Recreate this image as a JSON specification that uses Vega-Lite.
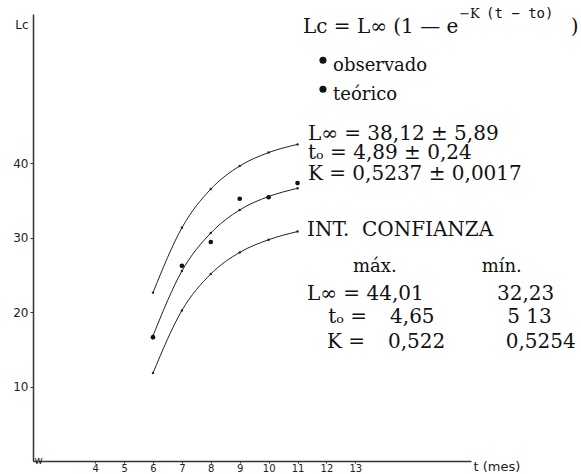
{
  "$schema": "https://vega.github.io/schema/vega-lite/v6.json",
  "autosize": "none",
  "width": 438,
  "height": 447,
  "padding": {"left": 33, "top": 14, "right": 110, "bottom": 13},
  "background": "white",
  "config": {"view": {"stroke": null}},
  "datasets": {
    "curvas": [
      {"t": 6, "Lc": 22.6, "curva": "max"},
      {"t": 7, "Lc": 31.3, "curva": "max"},
      {"t": 8, "Lc": 36.5, "curva": "max"},
      {"t": 9, "Lc": 39.6, "curva": "max"},
      {"t": 10, "Lc": 41.4, "curva": "max"},
      {"t": 11, "Lc": 42.5, "curva": "max"},
      {"t": 6, "Lc": 16.8, "curva": "teorico"},
      {"t": 7, "Lc": 25.5, "curva": "teorico"},
      {"t": 8, "Lc": 30.6, "curva": "teorico"},
      {"t": 9, "Lc": 33.7, "curva": "teorico"},
      {"t": 10, "Lc": 35.5, "curva": "teorico"},
      {"t": 11, "Lc": 36.6, "curva": "teorico"},
      {"t": 6, "Lc": 11.8, "curva": "min"},
      {"t": 7, "Lc": 20.2, "curva": "min"},
      {"t": 8, "Lc": 25.1, "curva": "min"},
      {"t": 9, "Lc": 28.0, "curva": "min"},
      {"t": 10, "Lc": 29.7, "curva": "min"},
      {"t": 11, "Lc": 30.8, "curva": "min"}
    ],
    "observado": [
      {"t": 6, "Lc": 16.6},
      {"t": 7, "Lc": 26.2},
      {"t": 8, "Lc": 29.4},
      {"t": 9, "Lc": 35.2},
      {"t": 10, "Lc": 35.4},
      {"t": 11, "Lc": 37.3}
    ],
    "textos": [
      {"t": 11.19, "Lc": 57.4, "texto": "Lc = L∞ (1 — e"},
      {"t": 11.36, "Lc": 43.1, "texto": "L∞ = 38,12 ± 5,89"},
      {"t": 11.36, "Lc": 40.5, "texto": "tₒ = 4,89 ± 0,24"},
      {"t": 11.36, "Lc": 37.7, "texto": "K = 0,5237 ± 0,0017"},
      {"t": 11.33, "Lc": 30.2, "texto": "INT.\u00a0\u00a0CONFIANZA"},
      {"t": 11.33, "Lc": 21.6, "texto": "L∞ = 44,01"},
      {"t": 17.9, "Lc": 21.6, "texto": "32,23"},
      {"t": 12.06, "Lc": 18.5, "texto": "tₒ ="},
      {"t": 14.2, "Lc": 18.5, "texto": "4,65"},
      {"t": 18.25, "Lc": 18.5, "texto": "5 13"},
      {"t": 12.02, "Lc": 15.2, "texto": "K ="},
      {"t": 14.13, "Lc": 15.2, "texto": "0,522"},
      {"t": 18.2, "Lc": 15.2, "texto": "0,5254"},
      {"t": 20.45, "Lc": 57.4, "texto": ")"}
    ],
    "palabras": [
      {"t": 12.23, "Lc": 52.4, "texto": "observado"},
      {"t": 12.23, "Lc": 48.5, "texto": "teórico"},
      {"t": 12.92, "Lc": 25.4, "texto": "máx."},
      {"t": 17.37, "Lc": 25.4, "texto": "mín."}
    ],
    "superindice": [
      {"t": 16.59, "Lc": 59.4, "texto": "−K"}
    ],
    "superindice_mono": [
      {"t": 17.52, "Lc": 59.5, "texto": "(t − to)"}
    ],
    "quiebre": [
      {"t": 1.9, "Lc": 0, "texto": "w"}
    ],
    "leyenda": [
      {"t": 11.88, "Lc": 53.8},
      {"t": 11.88, "Lc": 49.9}
    ]
  },
  "layer": [
    {
      "data": {"name": "curvas"},
      "mark": {"type": "line", "interpolate": "monotone", "color": "#222", "strokeWidth": 1},
      "encoding": {
        "x": {
          "field": "t", "type": "quantitative",
          "scale": {"domain": [1.85, 17], "nice": false, "zero": false},
          "axis": {
            "values": [4, 5, 6, 7, 8, 9, 10, 11, 12, 13],
            "title": "t (mes)",
            "titleFont": "DejaVu Sans", "titleFontSize": 13, "titleFontWeight": "normal", "titleColor": "#222",
            "titleAnchor": null, "titleAlign": "left", "titleBaseline": "middle", "titleX": 440, "titleY": 5,
            "grid": false, "tickSize": 2, "labelPadding": 0,
            "labelFont": "DejaVu Sans", "labelFontSize": 10, "labelColor": "#222",
            "domainColor": "#333", "domainWidth": 1.5, "tickColor": "#333"
          }
        },
        "y": {
          "field": "Lc", "type": "quantitative",
          "scale": {"domain": [0, 60], "nice": false},
          "axis": {
            "values": [10, 20, 30, 40],
            "title": "Lc", "titleAngle": 0,
            "titleFont": "DejaVu Sans", "titleFontSize": 12, "titleFontWeight": "normal", "titleColor": "#222",
            "titleAnchor": null, "titleAlign": "right", "titleBaseline": "alphabetic", "titleX": -5, "titleY": 14,
            "grid": false, "tickSize": 3, "labelPadding": 2,
            "labelFont": "DejaVu Sans", "labelFontSize": 12, "labelColor": "#222",
            "domainColor": "#333", "domainWidth": 1.5, "tickColor": "#333"
          }
        },
        "detail": {"field": "curva"}
      }
    },
    {
      "data": {"name": "curvas"},
      "mark": {"type": "point", "filled": true, "color": "#222", "size": 6, "opacity": 1},
      "encoding": {
        "x": {"field": "t", "type": "quantitative"},
        "y": {"field": "Lc", "type": "quantitative"}
      }
    },
    {
      "data": {"name": "observado"},
      "mark": {"type": "point", "filled": true, "color": "#111", "size": 22, "opacity": 1},
      "encoding": {
        "x": {"field": "t", "type": "quantitative"},
        "y": {"field": "Lc", "type": "quantitative"}
      }
    },
    {
      "data": {"name": "leyenda"},
      "mark": {"type": "point", "filled": true, "color": "#111", "size": 50, "opacity": 1},
      "encoding": {
        "x": {"field": "t", "type": "quantitative"},
        "y": {"field": "Lc", "type": "quantitative"}
      }
    },
    {
      "data": {"name": "textos"},
      "mark": {"type": "text", "align": "left", "baseline": "alphabetic", "font": "DejaVu Serif", "fontSize": 20, "color": "#111"},
      "encoding": {
        "x": {"field": "t", "type": "quantitative"},
        "y": {"field": "Lc", "type": "quantitative"},
        "text": {"field": "texto"}
      }
    },
    {
      "data": {"name": "palabras"},
      "mark": {"type": "text", "align": "left", "baseline": "alphabetic", "font": "DejaVu Serif", "fontSize": 18, "color": "#111"},
      "encoding": {
        "x": {"field": "t", "type": "quantitative"},
        "y": {"field": "Lc", "type": "quantitative"},
        "text": {"field": "texto"}
      }
    },
    {
      "data": {"name": "superindice"},
      "mark": {"type": "text", "align": "left", "baseline": "alphabetic", "font": "DejaVu Serif", "fontSize": 13, "color": "#111"},
      "encoding": {
        "x": {"field": "t", "type": "quantitative"},
        "y": {"field": "Lc", "type": "quantitative"},
        "text": {"field": "texto"}
      }
    },
    {
      "data": {"name": "superindice_mono"},
      "mark": {"type": "text", "align": "left", "baseline": "alphabetic", "font": "DejaVu Sans Mono", "fontSize": 14, "color": "#111"},
      "encoding": {
        "x": {"field": "t", "type": "quantitative"},
        "y": {"field": "Lc", "type": "quantitative"},
        "text": {"field": "texto"}
      }
    },
    {
      "data": {"name": "quiebre"},
      "mark": {"type": "text", "align": "left", "baseline": "middle", "font": "DejaVu Sans", "fontSize": 10, "color": "#222"},
      "encoding": {
        "x": {"field": "t", "type": "quantitative"},
        "y": {"field": "Lc", "type": "quantitative"},
        "text": {"field": "texto"}
      }
    }
  ]
}
